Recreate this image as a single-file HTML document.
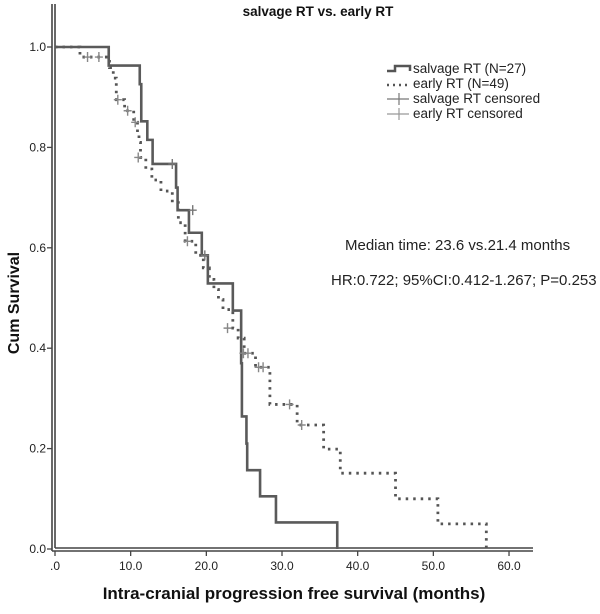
<!DOCTYPE html>
<html><head><meta charset="utf-8"><style>
body{margin:0;background:#fff;}
svg text{font-family:"Liberation Sans",Arial,sans-serif;}
</style></head><body>
<svg id="chart" width="600" height="609" xmlns="http://www.w3.org/2000/svg">
<text x="318" y="16" text-anchor="middle" font-size="13.5" font-weight="bold" fill="#111">salvage RT vs. early RT</text>
<text transform="translate(19,303) rotate(-90)" text-anchor="middle" font-size="16" font-weight="bold" fill="#111">Cum Survival</text>
<text x="294" y="599" text-anchor="middle" font-size="17" font-weight="bold" fill="#111">Intra-cranial progression free survival (months)</text>
<g id="axes"></g>
<g id="marks"></g>
<text x="345" y="250" font-size="15" fill="#222">Median time: 23.6 vs.21.4 months</text>
<text x="331" y="285" font-size="15" fill="#222">HR:0.722; 95%CI:0.412-1.267; P=0.253</text>
<g font-size="13.5" fill="#222">
 <g><path d="M387 71 H395 V66 H410 V71" fill="none" stroke="#555" stroke-width="2.5"/><text x="413" y="73">salvage RT (N=27)</text></g>
 <g><path d="M387 85 H409" fill="none" stroke="#555" stroke-width="2.5" stroke-dasharray="2,4"/><text x="413" y="88">early RT (N=49)</text></g>
 <g><path d="M387 99 H409 M399 93 V105" stroke="#777" stroke-width="1.2"/><text x="413" y="103">salvage RT censored</text></g>
 <g><path d="M387 114 H409 M399 108 V120" stroke="#999" stroke-width="1.2"/><text x="413" y="118">early RT censored</text></g>
</g>
</svg>
<script>
const xTicks=[0,10,20,30,40,50,60];
const xTickLabels=[".0","10.0","20.0","30.0","40.0","50.0","60.0"];
const yTicks=[0,0.2,0.4,0.6,0.8,1.0];
const yTickLabels=["0.0","0.2","0.4","0.6","0.8","1.0"];
const salvageTimes=[0,7.1,11.2,11.4,12.2,12.9,16.0,16.2,17.7,19.4,20.2,23.5,24.6,24.7,25.3,25.4,27.1,29.2,37.3];
const salvageSurv=[1,0.963,0.926,0.852,0.815,0.767,0.72,0.675,0.63,0.585,0.529,0.475,0.37,0.264,0.21,0.157,0.105,0.053,0];
const salvageCensT=[15.5,18.2,19.8];
const salvageCensS=[0.767,0.675,0.585];
const earlyTimes=[0,3.3,7.2,7.7,8.1,9.2,10.4,10.9,11.1,11.3,12.0,12.8,14.0,15.5,16.3,17.2,18.6,19.6,20.4,21.0,21.6,22.2,23.5,24.2,25.0,26.5,28.4,32.0,35.5,37.7,45.0,50.6,57.0];
const earlySurv=[1,0.98,0.959,0.938,0.895,0.873,0.85,0.83,0.81,0.78,0.757,0.735,0.713,0.69,0.65,0.613,0.585,0.56,0.537,0.517,0.497,0.477,0.44,0.42,0.39,0.362,0.288,0.247,0.199,0.151,0.1,0.05,0];
const earlyCensT=[4.3,5.8,8.3,9.6,10.6,11.0,17.5,22.8,24.9,25.5,26.9,27.5,31.0,32.6];
const earlyCensS=[0.98,0.98,0.895,0.873,0.85,0.78,0.613,0.44,0.39,0.39,0.362,0.362,0.288,0.247];

const NS="http://www.w3.org/2000/svg";
const X0=55,XS=7.567,Y0=549,YS=502;
const sx=t=>X0+t*XS, sy=v=>Y0-v*YS;
function mk(tag,attrs,parent){const e=document.createElementNS(NS,tag);for(const k in attrs)e.setAttribute(k,attrs[k]);parent.appendChild(e);return e;}
const axes=document.getElementById('axes'), marks=document.getElementById('marks');
let e;
e=mk('path',{d:`M52 4 V551 M55 4 V548 M52 551 H533 M55 548 H533`,stroke:'#444','stroke-width':1.6,fill:'none'},axes);


xTicks.forEach((t,i)=>{
 e=mk('line',{x1:sx(t),x2:sx(t),y1:551,y2:556,stroke:'#444','stroke-width':1.3},axes);
 
 
 e=mk('text',{x:sx(t),y:570,'text-anchor':'middle','font-size':12,fill:'#222'},axes);
 e.textContent=xTickLabels[i];
 
 
});
yTicks.forEach((v,i)=>{
 e=mk('line',{x1:47,x2:52,y1:sy(v),y2:sy(v),stroke:'#444','stroke-width':1.3},axes);
 
 
 e=mk('text',{x:46,y:sy(v)+4,'text-anchor':'end','font-size':12,fill:'#222'},axes);
 e.textContent=yTickLabels[i];
 
 
});
function stepPath(T,S){let d=`M${sx(T[0])} ${sy(S[0])}`;for(let i=1;i<T.length;i++){d+=` H${sx(T[i])} V${sy(S[i])}`;}return d;}
e=mk('path',{d:stepPath(earlyTimes,earlySurv),fill:'none',stroke:'#555','stroke-width':2.8,'stroke-dasharray':'2.5,5'},marks);


e=mk('path',{d:stepPath(salvageTimes,salvageSurv),fill:'none',stroke:'#5a5a5a','stroke-width':2.6},marks);


function cens(T,S,col,name){T.forEach((t,i)=>{
 e=mk('path',{d:`M${sx(t)-4} ${sy(S[i])} H${sx(t)+4} M${sx(t)} ${sy(S[i])-5} V${sy(S[i])+5}`,stroke:col,'stroke-width':1.4},marks);
 
 
});}
cens(salvageCensT,salvageCensS,'#777','salvage-censor-mark');
cens(earlyCensT,earlyCensS,'#888','early-censor-mark');
</script>
</body></html>
